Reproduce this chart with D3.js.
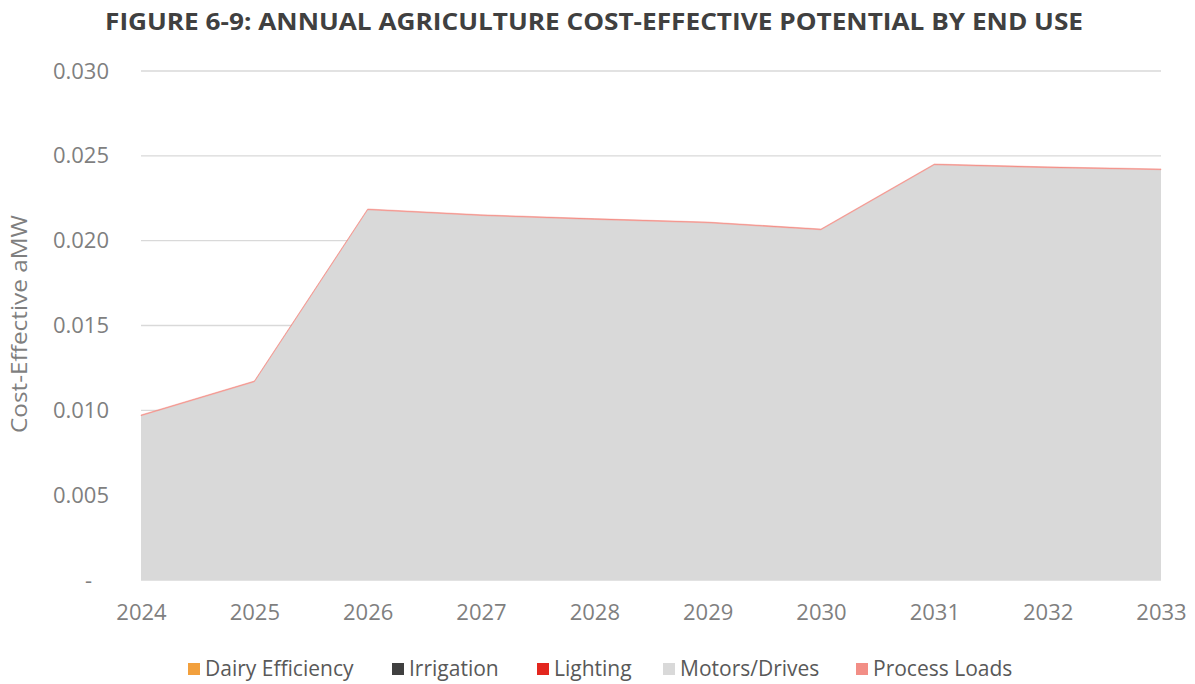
<!DOCTYPE html>
<html><head><meta charset="utf-8">
<script src="https://cdn.jsdelivr.net/npm/d3@7"></script>
<style>body{margin:0;background:#fff;font-family:"Open Sans",sans-serif;}</style>
</head><body>
<svg id="c" width="1195" height="684"></svg>
<script>
const years = [2024,2025,2026,2027,2028,2029,2030,2031,2032,2033];
const seriesNames = ["Dairy Efficiency","Irrigation","Lighting","Motors/Drives","Process Loads"];
const dairy = [0,0,0,0,0,0,0,0,0,0];
const irrigation = [0,0,0,0,0,0,0,0,0,0];
const lighting = [0,0,0,0,0,0,0,0,0,0];
const motors = [0.00968,0.01168,0.02182,0.02148,0.02125,0.02105,0.02064,0.02447,0.02430,0.02418];
const processLoads = [0.00005,0.00005,0.00005,0.00005,0.00005,0.00005,0.00005,0.00005,0.00005,0.00005];
const colors = ["#F2A03D","#404040","#E3261E","#D9D9D9","#F28E86"];
const yTicks = [0,0.005,0.010,0.015,0.020,0.025,0.030];
const title = "FIGURE 6-9: ANNUAL AGRICULTURE COST-EFFECTIVE POTENTIAL BY END USE";

const svg = d3.select("#c");
const m = {l:141, r:1161, t:71, b:580};
const x = d3.scalePoint().domain(years).range([m.l, m.r]);
const y = d3.scaleLinear().domain([0,0.030]).range([m.b, m.t]);

const rows = years.map((yr,i)=>({year:yr,"Dairy Efficiency":dairy[i],"Irrigation":irrigation[i],"Lighting":lighting[i],"Motors/Drives":motors[i],"Process Loads":processLoads[i]}));
const stack = d3.stack().keys(seriesNames)(rows);

// gridlines
svg.append("g").selectAll("line").data(yTicks).join("line")
  .attr("x1", m.l).attr("x2", m.r).attr("y1", d=>y(d)).attr("y2", d=>y(d))
  .attr("stroke","#d9d9d9").attr("stroke-width",1.3);

const area = d3.area().x(d=>x(d.data.year)).y0(d=>y(d[0])).y1(d=>y(d[1]));
svg.append("g").selectAll("path").data(stack).join("path")
  .attr("d", area).attr("fill",(d,i)=>colors[i])
  .attr("stroke",(d,i)=> i===4 ? colors[i] : "none").attr("stroke-width",0.5);

// y axis
const yAxis = d3.axisLeft(y).tickValues(yTicks).tickSize(0).tickPadding(0)
  .tickFormat(d=> d===0 ? "-" : d3.format(".3f")(d));
const ya = svg.append("g").attr("transform",`translate(109,0)`).call(yAxis);
ya.select(".domain").remove();
ya.selectAll("text").attr("fill","#7f7f7f").style("font-family","Open Sans").style("font-size","22px")
  .attr("text-anchor","end").attr("x",0).attr("dx",d=> d===0 ? "-17px" : "0");

// x axis
const xAxis = d3.axisBottom(x).tickSize(0).tickPadding(0);
const xa = svg.append("g").attr("transform",`translate(0,${m.b+24})`).call(xAxis);
xa.select(".domain").remove();
xa.selectAll("text").attr("fill","#7f7f7f").style("font-family","Open Sans").style("font-size","22px").attr("dy","0.71em");

// y label
svg.append("text").attr("transform",`translate(27,324) rotate(-90)`).attr("text-anchor","middle")
  .attr("fill","#7f7f7f").style("font-size","21px")
  .attr("textLength",218).attr("lengthAdjust","spacingAndGlyphs").text("Cost-Effective aMW");

// title
svg.append("text").attr("x",594).attr("y",30).attr("text-anchor","middle")
  .attr("fill","#404040").style("font-size","23px").style("font-weight","700")
  .attr("textLength",978).attr("lengthAdjust","spacingAndGlyphs").text(title);

// legend
const legX = [188,392,537,663,856];
const lg = svg.append("g").selectAll("g").data(seriesNames).join("g")
  .attr("transform",(d,i)=>`translate(${legX[i]},669)`);
lg.append("rect").attr("x",0).attr("y",-6).attr("width",12).attr("height",12).attr("fill",(d,i)=>colors[i]);
lg.append("text").attr("x",17).attr("y",0).attr("dy","0.35em").attr("fill","#595959").style("font-size","21px").text(d=>d);
</script>
</body></html>
